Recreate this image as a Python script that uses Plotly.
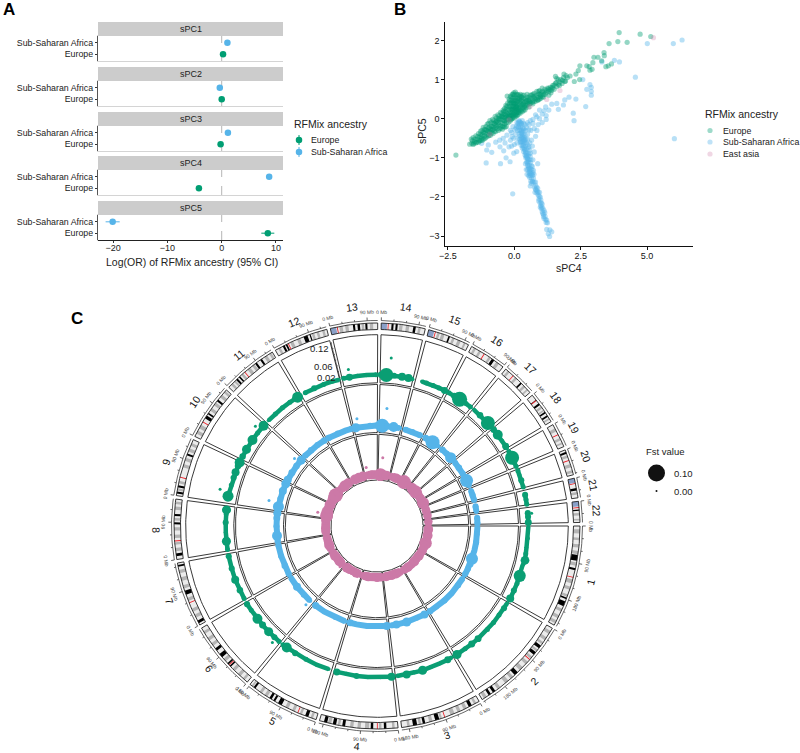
import math
import numpy as np
import plotly.graph_objects as go

GREEN = "#009E73"
BLUE = "#56B4E9"
PINK = "#CC79A7"
FONT = "Liberation Sans"

# panel A
pc_names = ["sPC1", "sPC2", "sPC3", "sPC4", "sPC5"]
or_europe = [0.25, 0.0, -0.2, -4.2, 8.5]
ci_europe = [0.3, 0.3, 0.3, 0.4, 1.2]
or_africa = [1.05, -0.35, 1.15, 8.75, -20.1]
ci_africa = [0.3, 0.3, 0.3, 0.4, 1.3]
ancestry_labels = ["Europe", "Sub-Saharan Africa"]
or_ticks = [-20, -10, 0, 10]

# panel B (sPC4, sPC5)
europe_points = [
    (-2.2, -.93), (3.95, 2.2), (4.74, 2.16), (5.14, 2.1), (3.9, 1.97), (4.25, 1.95), (3.57, 1.92), (3.38, 1.69),
    (3.39, 1.61), (3.0, 1.57), (3.15, 1.57), (3.29, 1.48), (2.96, 1.43), (3.66, 1.4), (3.54, 1.35), (3.45, 1.33),
    (2.73, 1.35), (2.82, 1.33), (2.93, 1.26), (2.85, 1.24), (2.47, 1.35), (2.41, 1.23), (2.32, 1.14), (2.46, 1.0),
    (2.26, .95), (1.93, .96), (1.87, 1.14), (2.1, 1.09), (1.6, 1.03), (1.55, 1.08), (1.95, 1.1), (2.0, 1.05),
    (1.9, .95), (1.85, 1.05), (1.8, .9), (1.75, 1.0), (1.7, .85), (1.65, 1.0), (1.6, .82), (1.55, .9), (1.5, .75),
    (1.45, .85), (1.4, .72), (1.35, .8), (1.3, .7), (1.25, .78), (1.2, .66), (1.15, .75), (1.1, .62), (1.05, .78),
    (1.0, .6), (.95, .72), (.9, .55), (.85, .7), (.8, .5), (.75, .65), (.7, .48), (.65, .6), (.6, .45), (.55, .55),
    (1.38, .66), (1.22, .72), (1.12, .68), (1.02, .66), (.92, .63), (.88, .48), (.78, .58), (.72, .56), (.68, .42),
    (.62, .52), (.58, .38), (.52, .48), (.5, .4), (.47, .55), (.45, .34), (.42, .5), (.4, .42), (.38, .3), (.35, .52),
    (.33, .44), (.31, .36), (.3, .26), (.28, .55), (.27, .48), (.25, .4), (.24, .32), (.22, .22), (.2, .58), (.2, .5),
    (.18, .44), (.18, .36), (.16, .28), (.15, .18), (.14, .6), (.13, .52), (.12, .46), (.11, .38), (.1, .3), (.09, .22),
    (.08, .14), (.07, .62), (.06, .54), (.05, .48), (.05, .4), (.04, .32), (.03, .26), (.02, .18), (.01, .1), (0, .6),
    (0, .52), (0, .46), (-.01, .38), (-.01, .3), (-.02, .22), (-.02, .14), (-.03, .06), (-.05, .62), (-.05, .54),
    (-.06, .46), (-.06, .4), (-.07, .32), (-.07, .24), (-.08, .16), (-.08, .08), (-.09, 0), (-.12, .56), (-.12, .48),
    (-.13, .4), (-.13, .32), (-.14, .24), (-.14, .16), (-.15, .08), (-.15, 0), (-.16, -.06), (-.18, .46), (-.18, .38),
    (-.19, .3), (-.2, .22), (-.2, .14), (-.21, .06), (-.22, -.02), (-.23, -.1), (-.25, .4), (-.25, .32), (-.26, .24),
    (-.27, .14), (-.28, .06), (-.29, -.02), (-.3, -.1), (-.27, .58), (-.32, .18), (-.33, .1), (-.34, .02), (-.35, -.06),
    (-.36, -.14), (-.38, .12), (-.4, .04), (-.42, -.04), (-.43, -.12), (-.45, -.2), (-.47, .06), (-.5, -.02), (-.5, -.1),
    (-.52, -.18), (-.55, -.26), (-.58, -.03), (-.6, -.1), (-.62, -.18), (-.65, -.26), (-.68, -.08), (-.7, -.16),
    (-.72, -.24), (-.75, -.32), (-.78, -.12), (-.8, -.2), (-.82, -.28), (-.85, -.36), (-.88, -.18), (-.9, -.26),
    (-.92, -.34), (-.95, -.42), (-.98, -.25), (-1.0, -.32), (-1.02, -.4), (-1.05, -.47), (-1.08, -.28), (-1.1, -.36),
    (-1.12, -.44), (-1.15, -.52), (-1.18, -.34), (-1.2, -.42), (-1.22, -.5), (-1.25, -.55), (-1.28, -.4), (-1.3, -.47),
    (-1.32, -.55), (-1.35, -.6), (-1.38, -.46), (-1.4, -.52), (-1.42, -.6), (-1.48, -.52), (-1.5, -.58), (-1.52, -.63),
    (-1.58, -.56), (-1.6, -.63), (-1.68, -.65), (-1.62, -.52), (.12, .24), (.08, .3), (.02, .38), (-.03, .42),
    (-.1, .26), (-.1, .1), (-.04, .12), (.06, .06), (.14, .1), (.22, .14), (.3, .18), (.4, .22), (.1, .42), (.16, .5),
    (.26, .56), (.36, .6), (.48, .62), (.6, .6), (.7, .38), (.82, .45), (.95, .5), (1.1, .55), (1.3, .6), (.55, .3),
    (.35, .22), (.05, .2), (-.12, .42), (.24, .46), (.44, .44), (.56, .42), (-.08, .22), (.1, .16),
    (-1.55, -.48), (-1.45, -.44), (-1.35, -.38), (-1.27, -.32), (-1.17, -.22), (-1.07, -.2), (-1.22, -.3), (-1.12, -.27),
    (-1.02, -.14), (-.97, -.12), (-.92, -.05), (-.87, -.1), (-.82, -.02), (-.77, -.05), (-.72, .06), (-.67, .02), (-.62, .1),
    (-.57, .07), (-.52, .16), (-.47, .14), (-.42, .22), (-.37, .26), (-.32, .34), (-.35, .2), (-.4, .18), (-.45, -.27),
    (-.5, -.24), (-.4, -.2), (-.35, -.22), (-.3, -.2), (-.6, -.3), (-.7, -.33), (-.8, -.38), (-.9, -.42), (-.98, -.44),
    (-1.1, -.5), (-1.2, -.55), (-1.3, -.57), (-1.45, -.62), (-1.55, -.66), (-.85, -.2), (-.75, -.12), (-.65, -.05),
    (-.55, 0), (-.45, .05), (-.38, -.05), (-.58, -.15), (-.68, -.2), (-.78, -.26), (-.88, -.3), (-.95, -.32), (-1.05, -.3),
    (-1.15, -.36), (-1.25, -.44), (-.95, -.22), (-.7, -.08), (-.6, .0), (-.5, .05), (-.44, .1), (-.3, .05), (-.24, .0),
    (-.3, .3), (-.24, .1), (-.18, .05), (-.12, -.02), (-.06, .02), (0, .02), (.05, .1), (.1, .08), (.18, .16), (.26, .2),
    (.34, .3), (.44, .28), (.5, .36), (.56, .48), (.62, .4), (.12, .62), (.22, .62), (.3, .6), (-.2, .5), (-.15, .58),
    (-.08, .62), (-.02, .66), (.04, .68), (.1, .34), (.2, .28), (.28, .34), (.16, .22), (.06, .28), (-.04, .3), (-.16, .12),
    (.34, .38), (.4, .34), (.46, .46), (.7, .62), (.76, .52), (.84, .6), (.92, .7), (.98, .56), (1.06, .7), (1.16, .62),
    (1.28, .76), (1.34, .74), (1.42, .8), (1.5, .86), (1.58, .92), (1.66, .88), (1.72, .94), (1.82, .98), (1.06, .56),
    (.9, .48), (1.0, .52), (.96, .62), (1.44, .78), (.75, .44),
]
africa_points = [
    (5.01, 1.92), (5.99, 1.92), (6.32, 2.01), (6.03, -.51), (4.56, 1.06), (3.77, 1.49), (3.96, 1.45), (3.3, 1.45),
    (2.85, .87), (2.73, .75), (2.9, .8), (2.9, .7), (2.9, .6), (2.58, 1.0), (2.69, .31), (2.32, .5), (2.06, .55), (1.9, .48),
    (1.85, .35), (2.22, .14), (2.25, -.05), (1.66, .24), (1.41, .37), (1.6, .39), (1.3, .22), (1.18, .3), (1.05, .12),
    (1.2, .08), (.95, .22), (.85, .05), (.8, .1), (1.12, .2), (.7, -.02), (.9, -.15), (1.05, -.1), (.75, -.25),
    (.62, -.3), (.85, -.3), (.55, -.28), (.7, -.12), (.6, -.05), (.5, -.1), (.95, 0), (1.2, -.02),
    (-1.06, -1.13), (-.52, -1.15), (-.16, -1.1), (-.31, -1.0), (-.06, -1.92), (-.85, -.86), (-1.04, -.8), (-1.23, -.63),
    (-.98, -.67), (-.54, -.72), (-.02, -.88), (.09, -.84), (-.2, -.72), (-.35, -.62), (-.55, -.55), (-.7, -.6),
    (-.4, -.82), (-.15, -.55), (-.1, -.35), (-.02, -.5), (.02, -.28), (.06, -.4), (.08, -.18), (.12, -.3),
    (.14, -.12), (.14, -.5), (.16, -.22), (.18, -.38), (.18, -.05), (.2, -.15), (.2, -.3), (.22, -.45),
    (.22, -.6), (.24, -.1), (.24, -.22), (.25, -.36), (.26, -.5), (.26, -.68), (.28, -.16), (.28, -.3), (.29, -.44),
    (.3, -.58), (.3, -.75), (.32, -.25), (.32, -.4), (.33, -.52), (.34, -.68), (.35, -.84), (.36, -.32), (.37, -.48),
    (.38, -.62), (.38, -.78), (.4, -.92), (.4, -.55), (.42, -.7), (.42, -.85), (.43, -1.0), (.45, -.62), (.45, -.78),
    (.46, -.95), (.47, -1.1), (.48, -.88), (.5, -1.02), (.5, -1.18), (.52, -.75), (.52, -.95), (.53, -1.1),
    (.54, -1.25), (.55, -1.38), (.56, -1.05), (.57, -1.2), (.58, -1.32), (.6, -1.45), (.6, -1.12), (.62, -1.28),
    (.63, -1.4), (.65, -1.52), (.66, -1.3), (.68, -1.45), (.68, -1.6), (.7, -1.38), (.45, -1.3), (.42, -1.15), (.48, -1.42),
    (.58, -1.5), (.62, -1.6), (.72, -1.52), (.6, -1.72), (.75, -1.62), (.8, -1.7), (.82, -1.82), (.85, -1.9), (.78, -1.88),
    (.88, -1.78), (.9, -1.95), (.93, -2.05), (.95, -1.88), (.97, -2.15), (1.0, -2.08), (1.0, -2.22), (1.02, -2.3),
    (1.05, -2.18), (1.05, -2.38), (1.08, -2.3), (1.1, -2.45), (1.12, -2.55), (1.15, -2.4), (1.18, -2.58), (1.22, -2.59),
    (1.25, -2.66), (1.34, -2.84), (1.22, -2.83), (1.41, -2.89), (1.33, -3.01), (1.28, -2.94), (.7, -1.05), (.88, -1.15),
    (.75, -.85), (.6, -.88), (.5, -.4), (.42, -.3), (.35, -.12), (.4, -.15), (.46, -.22), (.55, -.15), (.3, -.05),
    (.1, -.62), (-.05, -.2), (.65, -.55), (.8, -.45),
    (.2, -.52), (.24, -.58), (.28, -.62), (.32, -.7), (.36, -.74), (.4, -.8), (.44, -.88), (.44, -.95), (.48, -1.0), (.52, -1.05),
    (.5, -.66), (.55, -.72), (.58, -.8), (.6, -.96), (.55, -.9), (.62, -1.05), (.48, -1.12), (.52, -1.2), (.56, -1.28), (.6, -1.36),
    (.64, -1.2), (.68, -1.22), (.72, -1.32), (.5, -1.3), (.54, -1.46), (.58, -1.4), (.66, -1.42), (.7, -1.62), (.64, -1.65),
    (.74, -1.42), (.76, -1.75), (.8, -1.62), (.84, -1.75), (.86, -1.85), (.8, -1.8), (.9, -1.88), (.94, -1.98), (.98, -2.0),
    (.92, -2.1), (.98, -2.26), (1.02, -2.15), (1.04, -2.26), (1.07, -2.42), (1.12, -2.35), (1.1, -2.5), (1.16, -2.5), (1.2, -2.65),
    (.34, -.58), (.3, -.48), (.27, -.38), (.22, -.28), (.3, -.34), (.34, -.46), (.38, -.56), (.26, -.12), (.2, -.08), (.14, -.2),
    (.1, -.1), (.06, -.24), (.16, -.08), (.4, -.42), (.5, -.52), (.58, -.62), (.68, -.7), (.44, -.52), (.36, -.26),
    (-.08, -.46), (-.15, -.3), (-.28, -.42), (-.42, -.5), (.0, -.66), (-.1, -.7),
]
east_asia_points = [(5.24, 2.07), (1.72, .72), (1.22, .49), (.59, .31), (-.2, -.03), (-.92, -.4)]
scatter_labels = ["Europe", "Sub-Saharan Africa", "East asia"]

# panel C, hg19 sizes in Mb and the ideogram
chrom_names = [str(i) for i in range(1, 23)]
chrom_len = [249, 243, 198, 191, 181, 171, 159, 146, 141, 135.5, 135, 134, 115, 107, 102.5, 90, 81, 78, 59, 63, 48, 51]
centromere_mb = [125, 93, 91, 50, 47, 60, 59, 45, 45, 40, 53, 35, 17, 17, 17, 35, 24, 16, 27, 27, 13, 15]
dark_bands = [
    [(70, 84), (102, 107), (176, 180), (186, 198)],
    [(50, 58), (70, 78), (135, 145), (205, 212), (218, 224)],
    [(20, 28), (105, 115), (140, 146), (160, 170)],
    [(28, 34), (60, 66), (128, 135), (150, 158), (172, 180)],
    [(20, 28), (90, 100), (108, 113), (118, 124), (165, 170)],
    [(54, 58), (62, 66), (85, 95), (105, 112)],
    [(5, 12), (80, 90), (150, 154)],
    [(8, 15), (85, 90), (105, 110)],
    [(5, 10), (20, 25), (100, 105)],
    [(50, 58), (62, 66), (100, 105)],
    [(25, 30), (34, 38), (85, 90), (100, 105)],
    [(20, 25), (28, 32), (75, 85), (90, 93)],
    [(55, 60), (66, 72), (85, 90)],
    [(25, 30), (35, 40), (78, 84)],
    [(50, 54)],
    [(57, 64)],
    [(48, 52)],
    [(14, 16), (25, 30), (50, 54), (60, 64)],
    [],
    [(5, 10)],
    [(24, 30)],
    [(20, 23)],
]
grey_bands = [
    [(8, 18), (28, 34), (44, 52), (60, 68), (88, 96), (130, 140), (148, 156), (168, 174), (205, 212), (222, 230), (236, 244)],
    [(8, 16), (26, 34), (40, 46), (62, 68), (84, 90), (100, 108), (118, 128), (150, 158), (165, 175), (190, 198), (230, 238)],
    [(8, 14), (34, 42), (50, 58), (66, 76), (98, 103), (122, 130), (150, 156), (178, 184)],
    [(8, 14), (40, 46), (70, 80), (90, 98), (108, 116), (140, 146), (162, 170)],
    [(8, 14), (36, 42), (55, 62), (72, 80), (130, 138), (145, 152), (172, 176)],
    [(8, 14), (22, 30), (40, 48), (72, 80), (120, 128), (136, 144), (155, 162)],
    [(20, 28), (36, 44), (64, 72), (96, 104), (115, 124), (134, 142)],
    [(20, 28), (36, 42), (52, 60), (70, 78), (94, 100), (120, 128), (134, 140)],
    [(12, 18), (30, 36), (70, 78), (86, 94), (110, 118), (125, 132)],
    [(8, 16), (22, 32), (72, 80), (88, 96), (112, 120), (126, 132)],
    [(8, 14), (18, 23), (42, 48), (62, 70), (76, 83), (112, 120), (126, 132)],
    [(8, 14), (40, 48), (58, 66), (96, 102), (108, 114), (122, 128)],
    [(22, 30), (36, 44), (76, 82), (96, 104)],
    [(44, 52), (60, 68), (90, 96)],
    [(22, 28), (32, 40), (60, 66), (74, 82), (90, 95)],
    [(6, 12), (20, 26), (48, 54), (70, 78)],
    [(6, 12), (30, 36), (58, 64), (70, 74)],
    [(34, 40), (44, 48), (68, 72)],
    [(10, 18), (36, 42), (48, 52)],
    [(14, 20), (36, 44), (52, 58)],
    [(34, 40)],
    [(28, 34), (42, 46)],
]
acro_arms = [0] * 12 + [14, 14, 14] + [0] * 5 + [11, 12]
mb_label_step = 90
mb_tick_step = 30
fst_axis_ticks = [0.02, 0.04, 0.06, 0.08, 0.10, 0.12, 0.14]
fst_axis_labels = {0.02: "0.02", 0.06: "0.06", 0.12: "0.12"}

# per chromosome: (Mb, y value, Fst)
green_track = [
    [(2, .014, .01), (40, .014, .015), (70, .013, .012), (90, .014, .02), (111, .016, .045), (130, .012, .01), (164, .0135, .067), (190, .014, .02), (215, .014, .027), (243, .015, .04)],
    [(5, .014, .015), (23, .014, .027), (50, .013, .02), (80, .014, .02), (110, .014, .02), (152, .014, .033), (179, .014, .033), (205, .013, .02), (237, .014, .047)],
    [(5, .013, .012), (20, .014, .033), (50, .013, .012), (80, .013, .015), (108, .014, .047), (135, .013, .015), (161, .014, .04), (192, .014, .015)],
    [(4, .014, .04), (40, .013, .015), (80, .014, .015), (117, .014, .027), (150, .013, .015), (182, .014, .033)],
    [(10, .013, .012), (50, .014, .015), (90, .013, .02), (130, .014, .027), (163, .014, .053), (178, .014, .02)],
    [(5, .014, .02), (25, .014, .027), (51, .014, .047), (80, .014, .033), (106, .014, .053), (140, .014, .02), (164, .015, .027)],
    [(5, .014, .02), (35, .014, .03), (72, .015, .04), (110, .014, .027), (150, .014, .027)],
    [(5, .014, .02), (32, .014, .047), (60, .014, .015), (92, .014, .027), (120, .014, .02), (133, .014, .047)],
    [(23, .016, .06), (60, .014, .02), (85, .014, .027), (104, .014, .04), (125, .014, .03), (138, .014, .053)],
    [(10, .014, .03), (36, .014, .047), (72, .014, .053), (100, .014, .02), (130, .014, .053)],
    [(10, .014, .012), (40, .014, .02), (70, .014, .02), (100, .014, .02), (130, .014, .06)],
    [(15, .014, .02), (47, .014, .027), (80, .014, .02), (110, .014, .02), (130, .013, .015)],
    [(5, .014, .02), (24, .014, .033), (50, .014, .015), (80, .014, .015), (110, .014, .02)],
    [(3, .014, .03), (20, .014, .08), (45, .014, .025), (71, .014, .04), (92, .014, .04), (105, .013, .015)],
    [(22, .014, .015), (37, .014, .02), (60, .014, .02), (80, .014, .02), (100, .014, .033)],
    [(5, .014, .02), (25, .014, .03), (45, .014, .087), (70, .014, .02), (88, .014, .02)],
    [(5, .014, .015), (30, .014, .03), (66, .014, .08), (78, .014, .03)],
    [(5, .014, .03), (26, .014, .053), (50, .014, .015), (71, .014, .033), (76, .014, .02)],
    [(5, .014, .02), (27, .014, .08), (45, .014, .02), (58, .014, .02)],
    [(5, .014, .02), (20, .014, .015), (38, .014, .027), (60, .014, .02)],
    [(15, .014, .027), (30, .014, .02), (46, .014, .02)],
    [(18, .014, .027), (30, .014, .027), (48, .014, .033)],
]
blue_track = [
    [(2, .01, .015), (40, .01, .02), (80, .01, .027), (120, .01, .02), (162, .01, .067), (190, .011, .03), (215, .01, .027), (245, .01, .027)],
    [(10, .01, .02), (50, .01, .027), (100, .01, .02), (150, .01, .027), (200, .01, .02), (238, .01, .03)],
    [(17, .01, .04), (60, .01, .02), (111, .01, .047), (162, .01, .04), (190, .01, .02)],
    [(3, .01, .04), (50, .01, .02), (100, .01, .02), (150, .01, .02), (183, .01, .033)],
    [(10, .01, .02), (60, .01, .02), (120, .01, .02), (172, .01, .033)],
    [(20, .01, .02), (60, .01, .027), (111, .01, .04), (165, .01, .02)],
    [(5, .01, .027), (50, .01, .03), (100, .01, .027), (155, .01, .027)],
    [(5, .01, .027), (34, .01, .053), (80, .01, .027), (120, .01, .033), (143, .01, .04)],
    [(21, .01, .06), (60, .01, .027), (100, .01, .04), (138, .01, .047)],
    [(10, .01, .04), (50, .01, .033), (90, .01, .03), (126, .01, .047)],
    [(10, .01, .027), (50, .01, .03), (90, .01, .027), (130, .01, .03)],
    [(10, .01, .03), (60, .01, .027), (100, .01, .02), (130, .01, .027)],
    [(10, .01, .047), (50, .01, .02), (80, .01, .027), (110, .01, .027)],
    [(15, .01, .08), (40, .01, .027), (71, .01, .053), (100, .01, .02)],
    [(15, .01, .027), (50, .01, .027), (90, .01, .027)],
    [(10, .01, .03), (49, .01, .08), (80, .01, .02)],
    [(10, .01, .03), (40, .01, .027), (66, .01, .06), (78, .01, .027)],
    [(10, .01, .027), (40, .01, .03), (75, .01, .027)],
    [(10, .01, .04), (26, .01, .073), (50, .01, .027)],
    [(10, .01, .02), (35, .01, .027), (60, .01, .027)],
    [(20, .01, .027), (45, .01, .02)],
    [(20, .01, .027), (48, .01, .027)],
]
pink_track = [
    [(5, .005, .03), (35, .005, .05), (60, .005, .04), (90, .005, .053), (120, .005, .04), (166, .005, .07), (190, .005, .05), (210, .005, .04), (245, .005, .05)],
    [(10, .005, .035), (45, .005, .05), (80, .005, .04), (115, .005, .053), (150, .005, .035), (195, .005, .05), (238, .005, .04)],
    [(30, .005, .035), (70, .005, .05), (113, .005, .05), (145, .005, .04), (170, .005, .047)],
    [(5, .005, .04), (50, .005, .047), (90, .005, .03), (135, .005, .047), (180, .005, .035)],
    [(20, .005, .03), (55, .005, .047), (90, .005, .035), (125, .005, .047), (155, .005, .053)],
    [(30, .005, .04), (60, .005, .053), (90, .005, .04), (125, .005, .053), (160, .005, .04)],
    [(30, .005, .04), (65, .005, .053), (100, .005, .04), (150, .005, .035)],
    [(30, .005, .047), (60, .005, .047), (90, .005, .04), (135, .005, .047)],
    [(23, .005, .073), (60, .005, .067), (90, .005, .053), (135, .005, .06)],
    [(30, .005, .053), (60, .005, .067), (90, .005, .08), (130, .005, .053)],
    [(30, .005, .04), (70, .005, .06), (110, .005, .053)],
    [(40, .005, .053), (80, .005, .053), (120, .005, .053)],
    [(30, .005, .04), (65, .005, .047), (100, .005, .04)],
    [(22, .005, .073), (50, .005, .05), (80, .005, .05)],
    [(25, .005, .04), (60, .005, .05), (90, .005, .04)],
    [(31, .005, .08), (80, .005, .04)],
    [(30, .005, .06), (76, .005, .073)],
    [(20, .005, .05), (70, .005, .047)],
    [(29, .005, .067), (55, .005, .04)],
    [(20, .005, .04), (55, .005, .04)],
    [(8, .005, .03), (25, .005, .04)],
    [(8, .005, .03), (25, .005, .04)],
]
# chromosome number, Mb, y value of the small off-band points
green_strays = [(14, 31, .0727), (13, 25, .0402), (6, 19, .0314), (9, 39, .0473), (10, 112, .0338), (22, 19, .027)]
blue_strays = [(14, 31, .0693), (13, 23, .039), (9, 40, .0456), (6, 20, .029), (10, 112, .031)]
pink_strays = [(14, 31, .0625), (13, 24, .0318), (9, 37, .0365), (6, 21, .0169)]
fst_legend = [0.10, 0.00]

# circos geometry, in page pixels
CX, CY = 377, 526
GAP = 1.0
DEG_PER_MB = (360 - GAP * len(chrom_len)) / sum(chrom_len)
chrom_start = []
angle = 90.0
for length in chrom_len:
    chrom_start.append(angle)
    angle += length * DEG_PER_MB + GAP


def polar(idx, mb, r):
    t = math.radians(chrom_start[idx] + mb * DEG_PER_MB)
    return CX + r * math.sin(t), CY - r * math.cos(t)


def value_radius(inner, v):
    return inner + (v + 0.0135) * 296


def fst_size(fst):
    return 2 + 150 * fst


def band_outline(idx, a, b, r0, r1):
    mbs = np.linspace(a, b, max(2, int((b - a) * DEG_PER_MB) + 2))
    outer = [polar(idx, m, r1) for m in mbs]
    inner = [polar(idx, m, r0) for m in mbs[::-1]]
    pts = outer + inner + [outer[0]]
    return [p[0] for p in pts] + [None], [p[1] for p in pts] + [None]


fig = go.Figure()
axes = {}

# panel A
STRIP_H = 14
panel_tops = [36, 81, 126, 170, 215]
PANEL_H = 25
shapes = []
annots = []


def text(x, y, s, size=9, color="#222", anchor="center", angle=0, bold=False):
    annots.append(dict(x=x, y=y, xref="x6", yref="y6", text=f"<b>{s}</b>" if bold else s, showarrow=False,
                       xanchor=anchor, yanchor="middle", textangle=angle, borderpad=0,
                       font=dict(family=FONT, size=size, color=color)))


for i, name in enumerate(pc_names):
    n = "" if i == 0 else str(i + 1)
    top = panel_tops[i]
    axes[f"xaxis{n}"] = dict(domain=[98 / 800, 283 / 800], range=[-22.8, 11.3], anchor=f"y{n}", showgrid=False, zeroline=False,
                             showline=True, mirror=True, linecolor="#d4d4d4", linewidth=1, showticklabels=False,
                             ticks="", tickvals=or_ticks, automargin=False)
    axes[f"yaxis{n}"] = dict(domain=[1 - (top + PANEL_H) / 753, 1 - top / 753], range=[0.4, 2.6], anchor=f"x{n}", showgrid=False,
                             zeroline=False, showline=True, linecolor="#555", linewidth=1.2, tickvals=[1, 2],
                             ticktext=ancestry_labels, ticks="outside", ticklen=2, tickcolor="#333", automargin=False,
                             tickfont=dict(family=FONT, size=8.8, color="#222"))
    shapes.append(dict(type="rect", xref="x6", yref="y6", x0=98, x1=283, y0=top - STRIP_H, y1=top,
                       fillcolor="#cccccc", line=dict(width=0), layer="below"))
    shapes.append(dict(type="line", xref=f"x{n}", yref=f"y{n} domain", x0=0, x1=0, y0=0, y1=1,
                       line=dict(color="#b5b5b5", width=1, dash="dash"), layer="below"))
    text(190.5, top - STRIP_H / 2, name, size=9)
    fig.add_trace(go.Scatter(x=[or_europe[i]], y=[1], mode="markers", xaxis=f"x{n}", yaxis=f"y{n}", showlegend=False,
                             marker=dict(color=GREEN, size=6.5),
                             error_x=dict(type="data", array=[ci_europe[i]], color=GREEN, width=0, thickness=1)))
    fig.add_trace(go.Scatter(x=[or_africa[i]], y=[2], mode="markers", xaxis=f"x{n}", yaxis=f"y{n}", showlegend=False,
                             marker=dict(color=BLUE, size=6.5),
                             error_x=dict(type="data", array=[ci_africa[i]], color=BLUE, width=0, thickness=1)))

axes["xaxis5"].update(showticklabels=True, ticks="outside", ticklen=2, tickcolor="#333", ticklabelstandoff=-3,
                      tickfont=dict(family=FONT, size=9, color="#222"))
shapes.append(dict(type="line", xref="x6", yref="y6", x0=98, x1=283, y0=240.5, y1=240.5, line=dict(color="#222", width=1)))
text(192, 261.5, "Log(OR) of RFMix ancestry (95% CI)", size=10.5)

# page axis, one unit is one pixel
axes["xaxis6"] = dict(domain=[0, 1], range=[0, 800], anchor="y6", visible=False, fixedrange=True, automargin=False)
axes["yaxis6"] = dict(domain=[0, 1], range=[753, 0], anchor="x6", visible=False, fixedrange=True, automargin=False)

# panel B
axes["xaxis7"] = dict(domain=[445.3 / 800, 692.7 / 800], range=[-2.6, 6.72], anchor="y7", showgrid=False, zeroline=False,
                      showline=True, linecolor="#111", linewidth=1, ticks="outside", ticklen=3, tickcolor="#111", automargin=False,
                      ticklabelstandoff=-2, tickvals=[-2.5, 0, 2.5, 5], tickformat=".1f",
                      tickfont=dict(family=FONT, size=9, color="#111"))
axes["yaxis7"] = dict(domain=[1 - 246.3 / 753, 1 - 22 / 753], range=[-3.26, 2.47], anchor="x7", showgrid=False, zeroline=False,
                      showline=True, linecolor="#111", linewidth=1, ticks="outside", ticklen=3, tickcolor="#111", automargin=False,
                      tickvals=[-3, -2, -1, 0, 1, 2], tickfont=dict(family=FONT, size=9, color="#111"))
for pts, col, op in [(africa_points, BLUE, 0.42), (europe_points, GREEN, 0.42), (east_asia_points, PINK, 0.3)]:
    fig.add_trace(go.Scatter(x=[p[0] for p in pts], y=[p[1] for p in pts], mode="markers", xaxis="x7", yaxis="y7",
                             showlegend=False, marker=dict(color=col, size=5.2, opacity=op, line=dict(width=0))))
text(569.3, 267.5, "sPC4", size=10.5)
text(422, 131, "sPC5", size=10.5, angle=-90)

# legends
text(293, 124, "RFMix ancestry", size=10.5, anchor="left")
text(704, 114, "RFMix ancestry", size=10.5, anchor="left")
legend_a_y = [140, 152]
for yy, lab, col in zip(legend_a_y, ancestry_labels, [GREEN, BLUE]):
    fig.add_trace(go.Scatter(x=[299, 299], y=[yy - 5, yy + 5], mode="lines", xaxis="x6", yaxis="y6", showlegend=False,
                             line=dict(color=col, width=1)))
    fig.add_trace(go.Scatter(x=[299], y=[yy], mode="markers", xaxis="x6", yaxis="y6", showlegend=False,
                             marker=dict(color=col, size=6.5)))
    text(310, yy, lab, size=8.8, anchor="left")
legend_b_y = [130.5, 142, 154]
for yy, lab, col, op in zip(legend_b_y, scatter_labels, [GREEN, BLUE, PINK], [0.38, 0.38, 0.3]):
    fig.add_trace(go.Scatter(x=[710], y=[yy], mode="markers", xaxis="x6", yaxis="y6", showlegend=False,
                             marker=dict(color=col, size=5.2, opacity=op, line=dict(width=0))))
    text(721.7, yy, lab, size=8.8, anchor="left")

text(645, 451, "Fst value", size=9.5, anchor="left")
for yy, val in zip([473, 491], fst_legend):
    fig.add_trace(go.Scatter(x=[656.5], y=[yy], mode="markers", xaxis="x6", yaxis="y6", showlegend=False,
                             marker=dict(color="#111", size=fst_size(val), line=dict(width=0))))
    text(673, yy, f"{val:.2f}", size=9.5, anchor="left")

text(2, 9, "A", size=17, color="#000", anchor="left", bold=True)
text(393, 9, "B", size=17, color="#000", anchor="left", bold=True)
text(70, 318, "C", size=17, color="#000", anchor="left", bold=True)

# panel C: ideogram
ring0, ring1 = 196.5, 203
layers = [("#ececec", lambda i: [(0, chrom_len[i])]), ("#b4b4b4", lambda i: grey_bands[i]), ("#000000", lambda i: dark_bands[i]),
          ("#8aa0c8", lambda i: [(0, acro_arms[i])] if acro_arms[i] else []),
          ("#ee1c25", lambda i: [(centromere_mb[i] - 1, centromere_mb[i] + 1)])]
for col, bands in layers:
    xs, ys = [], []
    for i in range(len(chrom_len)):
        for a, b in bands(i):
            bx, by = band_outline(i, a, b, ring0, ring1)
            xs += bx
            ys += by
    fig.add_trace(go.Scatter(x=xs, y=ys, mode="lines", fill="toself", fillcolor=col, line=dict(width=0), xaxis="x6", yaxis="y6",
                             showlegend=False, hoverinfo="skip"))

# track and ideogram frames
track_inner = [143.2, 93.5, 46]
track_outer = [191.3, 141.5, 91.7]
fx, fy = [], []
for i, length in enumerate(chrom_len):
    for r0, r1 in list(zip(track_inner, track_outer)) + [(ring0, ring1)]:
        bx, by = band_outline(i, 0, length, r0, r1)
        fx += bx
        fy += by
fig.add_trace(go.Scatter(x=fx, y=fy, mode="lines", line=dict(color="#222", width=0.9), xaxis="x6", yaxis="y6", showlegend=False,
                         hoverinfo="skip"))

# genome axis
ax_x, ax_y = [], []
for i, length in enumerate(chrom_len):
    arc = [polar(i, m, 205.5) for m in np.linspace(0, length, int(length * DEG_PER_MB) + 2)]
    ax_x += [p[0] for p in arc] + [None]
    ax_y += [p[1] for p in arc] + [None]
    for mb in range(0, int(length) + 1, mb_tick_step):
        major = mb % mb_label_step == 0
        p0, p1 = polar(i, mb, 205.5), polar(i, mb, 208.7 if major else 207.2)
        ax_x += [p0[0], p1[0], None]
        ax_y += [p0[1], p1[1], None]
        if major:
            lx, ly = polar(i, mb, 214)
            th = (chrom_start[i] + mb * DEG_PER_MB) % 360
            rot = th - 180 if 90 < th < 270 else th
            text(lx, ly, f"{mb} Mb", size=5, color="#444", angle=rot)
    mid = length / 2
    lx, ly = polar(i, mid, 220.5)
    th = (chrom_start[i] + mid * DEG_PER_MB) % 360
    rot = th - 180 if 90 < th < 270 else th
    text(lx, ly, chrom_names[i], size=10.5, color="#111", angle=rot)
fig.add_trace(go.Scatter(x=ax_x, y=ax_y, mode="lines", line=dict(color="#222", width=0.7), xaxis="x6", yaxis="y6", showlegend=False,
                         hoverinfo="skip"))

# fst y axis on the left of chr13
y_idx = 12
y_mb = -0.8 / DEG_PER_MB
yx, yy_ = [], []
p0, p1 = polar(y_idx, y_mb, 147), polar(y_idx, y_mb, 189)
yx += [p0[0], p1[0], None]
yy_ += [p0[1], p1[1], None]
for v in fst_axis_ticks:
    r = value_radius(track_inner[0], v)
    p0 = polar(y_idx, y_mb, r)
    p2 = polar(y_idx, y_mb + 0.3 / DEG_PER_MB, r)
    yx += [p0[0], p2[0], None]
    yy_ += [p0[1], p2[1], None]
    if v in fst_axis_labels:
        lx, ly = polar(y_idx, y_mb, r)
        text(lx - 2.5, ly, fst_axis_labels[v], size=9.5, color="#222", anchor="right")
fig.add_trace(go.Scatter(x=yx, y=yy_, mode="lines", line=dict(color="#222", width=0.7), xaxis="x6", yaxis="y6", showlegend=False,
                         hoverinfo="skip"))

# fst tracks
for track, strays, inner, col, band_w in [(green_track, green_strays, track_inner[0], "#0a9e73", 4.5),
                                          (blue_track, blue_strays, track_inner[1], BLUE, 6),
                                          (pink_track, pink_strays, track_inner[2], PINK, 8.5)]:
    bx, by, dx, dy, ds = [], [], [], [], []
    for i, pts in enumerate(track):
        for mb, v, fst in pts:
            px, py = polar(i, mb, value_radius(inner, v))
            bx.append(px)
            by.append(py)
            dx.append(px)
            dy.append(py)
            ds.append(fst_size(fst))
        bx.append(None)
        by.append(None)
    for chrom, mb, v in strays:
        px, py = polar(chrom - 1, mb, value_radius(inner, v))
        dx.append(px)
        dy.append(py)
        ds.append(3)
    fig.add_trace(go.Scatter(x=bx, y=by, mode="lines", line=dict(color=col, width=band_w), xaxis="x6", yaxis="y6", showlegend=False,
                             hoverinfo="skip"))
    fig.add_trace(go.Scatter(x=dx, y=dy, mode="markers", marker=dict(color=col, size=ds, opacity=1, line=dict(width=0)), xaxis="x6", yaxis="y6",
                             showlegend=False))

fig.update_layout(template="none", width=800, height=753, autosize=False, margin=dict(l=0, r=0, t=0, b=0), paper_bgcolor="white",
                  plot_bgcolor="rgba(0,0,0,0)", showlegend=False, shapes=shapes, annotations=annots,
                  font=dict(family=FONT), **axes)

fig.write_html("out.html", config=dict(displayModeBar=False), post_script="document.body.style.margin='0';")
